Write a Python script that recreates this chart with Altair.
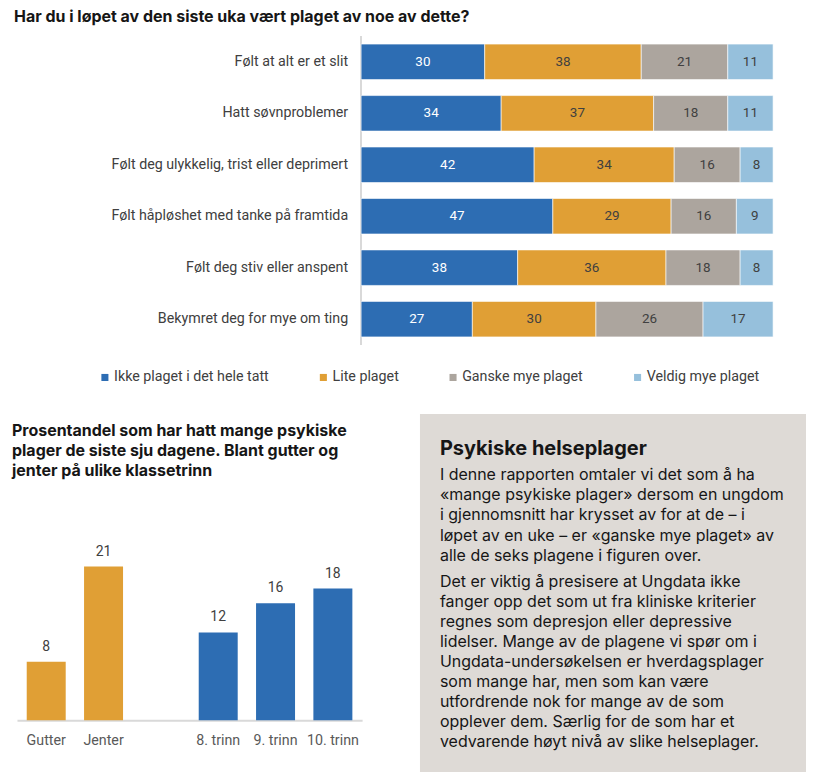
import altair as alt
import pandas as pd

# ---- data: top stacked chart ----
items = [
    "Følt at alt er et slit",
    "Hatt søvnproblemer",
    "Følt deg ulykkelig, trist eller deprimert",
    "Følt håpløshet med tanke på framtida",
    "Følt deg stiv eller anspent",
    "Bekymret deg for mye om ting",
]
levels = ["Ikke plaget i det hele tatt", "Lite plaget", "Ganske mye plaget", "Veldig mye plaget"]
ikke = [30, 34, 42, 47, 38, 27]
lite = [38, 37, 34, 29, 36, 30]
ganske = [21, 18, 16, 16, 18, 26]
veldig = [11, 11, 8, 9, 8, 17]
level_colors = ["#2D6DB3", "#E09F35", "#ACA59E", "#96C0DC"]

# ---- data: bottom bar chart ----
groups = ["Gutter", "Jenter", "8. trinn", "9. trinn", "10. trinn"]
group_kind = ["Kjønn", "Kjønn", "Trinn", "Trinn", "Trinn"]
shares = [8, 21, 12, 16, 18]

# ---- text box ----
box_title = "Psykiske helseplager"
para1 = [
    "I denne rapporten omtaler vi det som å ha",
    "«mange psykiske plager» dersom en ungdom",
    "i gjennomsnitt har krysset av for at de – i",
    "løpet av en uke – er «ganske mye plaget» av",
    "alle de seks plagene i figuren over.",
]
para2 = [
    "Det er viktig å presisere at Ungdata ikke",
    "fanger opp det som ut fra kliniske kriterier",
    "regnes som depresjon eller depressive",
    "lidelser. Mange av de plagene vi spør om i",
    "Ungdata-undersøkelsen  er hverdagsplager",
    "som mange har, men som kan være",
    "utfordrende nok for mange av de som",
    "opplever dem. Særlig for de som har et",
    "vedvarende høyt nivå av slike helseplager.",
]

FONT = "Roboto"
HFONT = "Inter"
TXT = "#404040"
DARK = "#161616"
ORANGE, BLUE = "#E09F35", "#2D6DB3"
LBL = 14.3

rows = []
for i, it in enumerate(items):
    for j, (lv, vals) in enumerate(zip(levels, [ikke, lite, ganske, veldig])):
        rows.append({"item": it, "level": lv, "order": j, "value": vals[i]})
top_df = pd.DataFrame(rows)
items_df = pd.DataFrame({"item": items})

TOP_W, TOP_H = 761, 310
xscale = alt.Scale(domain=[0, 1], range=[345, 758])
yscale = alt.Scale(domain=items, paddingInner=0.31, paddingOuter=0.16)

base = alt.Chart(top_df).transform_stack(
    stack="value", groupby=["item"], as_=["x0", "x1"],
    sort=[alt.SortField("order", order="ascending")], offset="normalize",
).transform_calculate(xm="(datum.x0 + datum.x1) / 2")

bars = base.mark_bar(stroke="white", strokeWidth=0.6).encode(
    y=alt.Y("item:N", scale=yscale, axis=None),
    x=alt.X("x0:Q", axis=None, scale=xscale),
    x2="x1:Q",
    color=alt.Color(
        "level:N", sort=levels,
        scale=alt.Scale(domain=levels, range=level_colors),
        legend=alt.Legend(
            title=None, orient="none", legendX=81, legendY=335,
            direction="horizontal", columns=4, columnPadding=47,
            symbolType="square", symbolSize=50, symbolStrokeWidth=0,
            labelFontSize=LBL, labelColor=TXT, labelFont=FONT, labelOffset=2,
        ),
    ),
)
vals = base.mark_text(fontSize=13.5, font=FONT).encode(
    y=alt.Y("item:N", scale=yscale, axis=None),
    x=alt.X("xm:Q", scale=xscale, axis=None),
    text="value:Q",
    color=alt.condition(alt.datum.order == 0, alt.value("white"), alt.value(TXT)),
)
cat_labels = alt.Chart(items_df).mark_text(
    align="right", fontSize=LBL, font=FONT, color=TXT
).encode(y=alt.Y("item:N", scale=yscale, axis=None), x=alt.value(332), text="item:N")
zero_line = alt.Chart(items_df).mark_rule(color="#D9D9D9", strokeWidth=1.5).encode(
    x=alt.value(345), y=alt.value(0), y2=alt.value(TOP_H)
)
top = alt.layer(zero_line, bars, vals, cat_labels).properties(
    width=TOP_W, height=TOP_H,
    title=alt.TitleParams(
        "Har du i løpet av den siste uka vært plaget av noe av dette?",
        anchor="start", fontSize=16, fontWeight="bold",
        font=HFONT, color=DARK, offset=10, dx=-3,
    ),
)

# ---- bottom left ----
bottom_df = pd.DataFrame({"group": groups, "kind": group_kind, "share": shares})
x_domain = groups[:2] + [" "] + groups[2:]
xenc = alt.X(
    "group:N",
    scale=alt.Scale(domain=x_domain, paddingInner=0.32, paddingOuter=0.17),
    axis=alt.Axis(title=None, labelAngle=0, ticks=False, domainColor="#D9D9D9", domainWidth=2,
                  labelFontSize=LBL, labelColor="#595959", labelFont=FONT, labelPadding=13),
)
yenc2 = alt.Y("share:Q", scale=alt.Scale(domain=[0, 24]), axis=None)
b2 = alt.Chart(bottom_df).mark_bar().encode(
    x=xenc, y=yenc2,
    color=alt.condition(alt.datum.kind == "Kjønn", alt.value(ORANGE), alt.value(BLUE)),
)
t2 = alt.Chart(bottom_df).mark_text(dy=-15, fontSize=14, font=FONT, color=TXT).encode(
    x=xenc, y=yenc2, text="share:Q"
)
left = alt.layer(b2, t2).properties(
    width=346, height=176,
    title=alt.TitleParams(
        ["Prosentandel som har hatt mange psykiske",
         "plager de siste sju dagene. Blant gutter og",
         "jenter på ulike klassetrinn"],
        anchor="start", fontSize=16, fontWeight="bold", font=HFONT, color=DARK,
        lineHeight=20, offset=66, dx=-5,
    ),
)

# ---- text box (positions relative to the bar chart's plot top) ----
BW = 387
BOX_TOP, BOX_BOT = -131, 228
one = pd.DataFrame({"t": [box_title]})
box_bg = alt.Chart(one).mark_rect(color="#DEDAD6").encode(
    x=alt.value(0), x2=alt.value(BW), y=alt.value(BOX_TOP), y2=alt.value(BOX_BOT)
)
box_t = alt.Chart(one).mark_text(
    align="left", baseline="middle", fontSize=20, fontWeight="bold", font=HFONT, color=DARK
).encode(x=alt.value(20), y=alt.value(BOX_TOP + 35), text="t:N")
p1 = alt.Chart(one).mark_text(
    align="left", baseline="middle", fontSize=16, font=HFONT, color=DARK,
    lineHeight=20.3, text=para1,
).encode(x=alt.value(20), y=alt.value(BOX_TOP + 61))
p2 = alt.Chart(one).mark_text(
    align="left", baseline="middle", fontSize=16, font=HFONT, color=DARK,
    lineHeight=20.1, text=para2,
).encode(x=alt.value(20), y=alt.value(BOX_TOP + 168))
box = alt.layer(box_bg, box_t, p1, p2).properties(width=BW, height=176)

bottom = alt.concat(left, box, columns=2, spacing=58)

chart = alt.concat(top, bottom, columns=1, spacing=68).properties(
    padding={"left": 4, "top": 0, "right": 2, "bottom": 2}
).configure(font=FONT).configure_view(strokeWidth=0)

chart.save("out.html", embed_options={"renderer": "svg", "actions": False})
